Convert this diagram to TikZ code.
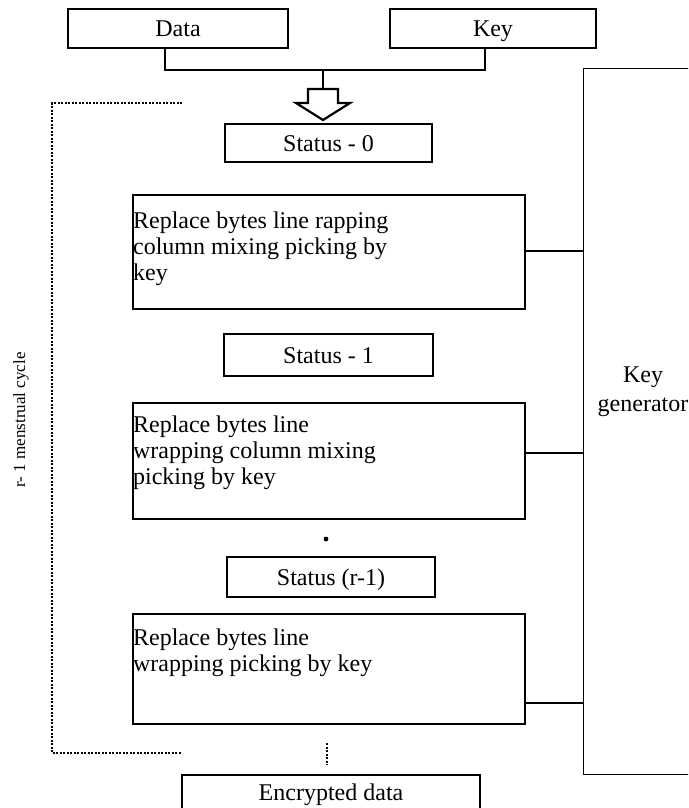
\documentclass[tikz,border=0pt]{standalone}
\usepackage{fontspec}
\setmainfont{Liberation Serif}
\begin{document}
\begin{tikzpicture}[x=1pt,y=-1pt,
  box/.style={draw,line width=2.2pt,inner sep=0pt,text height=16pt,text depth=0pt,font=\fontsize{24}{26}\selectfont},
  txt/.style={inner sep=0pt,align=left,font=\fontsize{24}{26}\selectfont},
  link/.style={line width=2.2pt},
  dots/.style={line width=2.8pt,dash pattern=on 2pt off 1.5pt}]
\useasboundingbox (0,0) rectangle (688,808);
\clip (0,0) rectangle (688,808);
% top inputs
\node[box,minimum width=220pt,minimum height=39pt] (data) at (178,28.5) {Data};
\node[box,minimum width=206pt,minimum height=39pt] (key) at (493,28.5) {Key};
\coordinate (j) at (323,70);
\draw[link] ([xshift=-13pt]data.south) |- (j) -| ([xshift=-8pt]key.south);
\coordinate (at) at (323,89);
\draw[link] (j) -- (at);
\draw[line width=2.2pt,fill=white] ([xshift=-15pt]at) -- ([xshift=15pt]at) -- ([xshift=15pt,yshift=-14pt]at)
  -- ([xshift=27pt,yshift=-14pt]at) -- ([yshift=-31pt]at) -- ([xshift=-27pt,yshift=-14pt]at)
  -- ([xshift=-15pt,yshift=-14pt]at) -- cycle;
% key generator
\node[draw,line width=1.2pt,minimum width=140pt,minimum height=706pt,anchor=north west,inner sep=0pt] (kg) at (583,68) {};
\node[txt,align=center,font=\fontsize{24}{29}\selectfont] (kgt) at (643,392) {Key\\generator};
% status and round boxes
\node[box,minimum width=207pt,minimum height=38pt] (s0) at (328.5,143) {Status - 0};
\node[box,minimum width=392pt,minimum height=114pt] (b1) at (329,252) {};
\node[txt,anchor=base west] (t1) at ([xshift=1pt,yshift=-87pt]b1.north west) {Replace bytes line rapping\\column mixing picking by\\key};
\node[box,minimum width=209pt,minimum height=42pt] (s1) at (328.5,355) {Status - 1};
\node[box,minimum width=392pt,minimum height=116pt] (b2) at (329,461) {};
\node[txt,anchor=base west] (t2) at ([xshift=1pt,yshift=-83pt]b2.north west) {Replace bytes line\\wrapping column mixing\\picking by key};
\fill (326,539) circle (2.4pt);
\node[box,minimum width=208pt,minimum height=40pt] (s2) at (331,577) {Status (r-1)};
\node[box,minimum width=392pt,minimum height=110pt] (b3) at (329,669) {};
\node[txt,anchor=base west] (t3) at ([xshift=1pt,yshift=-59pt]b3.north west) {Replace bytes line\\wrapping picking by key};
\node[box,minimum width=298pt,minimum height=50pt,anchor=north] (enc) at (331,774) {};
\node[txt,anchor=base] (enct) at (331,800) {Encrypted data};
% connectors to key generator
\draw[link] ([yshift=1pt]b1.east) coordinate (c1) -- (c1 -| kg.west);
\draw[link] ([yshift=8pt]b2.east) coordinate (c2) -- (c2 -| kg.west);
\draw[link] ([yshift=-34pt]b3.east) coordinate (c3) -- (c3 -| kg.west);
% loop
\draw[dots] (182,103) -- (52,103) -- (52,753) -- (182,753);
\draw[dots] ([xshift=-4pt,yshift=31pt]enc.north) -- ([xshift=-4pt,yshift=9pt]enc.north);
\node[rotate=90,inner sep=0pt,font=\fontsize{17}{19}\selectfont] (loop) at (21,420) {r- 1 menstrual cycle};
\end{tikzpicture}
\end{document}
